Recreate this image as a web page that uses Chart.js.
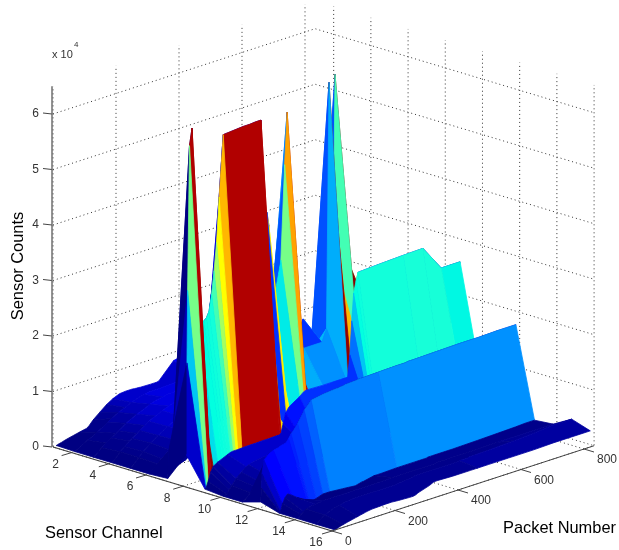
<!DOCTYPE html>
<html lang="en">
<head>
  <meta charset="UTF-8">
  <title>Sensor Counts</title>
  <script src="https://cdn.jsdelivr.net/npm/chart.js@4"></script>
  <style>
    html, body { margin: 0; padding: 0; background: #fff; }
    canvas { display: block; }
  </style>
</head>
<body>
  <canvas id="mychart" width="619" height="550"></canvas>

  <script type="text/javascript">
    // packet numbers the surface was sampled at (not evenly spaced)
    const packets = [10,12,14,20,28,36,50,66,74,82,90,98,106,114,127,148,170,190,211,230,247,252,258,266,272,277,310,322,330,336,383,440,455,463,470,476,482,490,496,560,640,702,760,790,820];

    // sensor counts per channel, one value per packet above
    const ch1 = [100,120,150,250,350,500,700,900,1000,1100,1200,1300,1370,1700,2500,3500,4500,5200,5700,5800,5800,5800,5750,5700,5700,5650,5600,5600,5600,5700,8500,9200,9200,9000,9000,8800,8800,8500,8500,7500,6500,5500,5000,4500,4000];
    const ch2 = [0,50,100,300,600,900,1300,1700,2000,2200,2500,2700,3000,3300,3800,4500,5000,5500,6000,6200,6400,6400,6400,6400,6400,6400,6500,6500,6600,6600,7000,7000,7000,6800,6800,6800,6600,6600,6500,6000,5500,5000,4500,4200,4000];
    const ch3 = [0,70,150,400,800,1200,1800,2400,2700,3000,3300,3600,3900,4200,4600,5200,5700,6200,6600,6800,7000,7000,7000,7000,7100,7100,7200,7200,7300,7300,7500,7500,7500,7400,7400,7400,7300,7300,7200,6500,6000,5500,5000,4600,4200];
    const ch4 = [0,100,200,500,1000,1500,2200,2900,3200,3500,3800,4200,4500,4800,5300,5900,6400,6900,7300,7500,7700,7700,7700,7700,7700,7700,7700,7700,7700,7700,7700,7600,7600,7500,7500,7500,7400,7400,7300,6700,6100,5600,5100,4700,4300];
    const ch5 = [0,100,200,500,1000,1500,2300,3000,3400,3700,4000,4300,4600,4900,5400,6000,6500,7000,7400,7600,7800,7800,7800,7800,7800,7800,7800,7800,7800,7800,7800,7600,7600,7500,7500,7500,7400,7400,7300,6800,6200,5700,5200,4800,4400];
    const ch6 = [0,100,200,500,900,1300,2000,2800,3200,3600,4000,4400,4800,5200,5800,6500,7000,7400,7700,7900,8000,8000,8000,8000,8000,8000,8000,8000,8000,8000,8000,7800,7800,7700,7700,7600,7600,7500,7500,7000,6400,5900,5400,5000,4600];
    const ch7 = [200,5000,1000,1200,1500,1800,2200,2500,2800,3000,3200,6500,7000,7200,7500,7500,7500,7500,7500,7500,8000,8200,8500,9000,9500,10000,14000,16500,17200,17000,12000,21000,14000,14000,14000,13500,13500,12000,11000,9000,8000,7000,6000,5500,5000];
    const ch8 = [5500,22000,35000,61000,64000,24000,27000,28600,29000,30000,33000,37000,42000,50000,61000,61100,61200,61300,61300,61400,61400,46000,12000,44400,42000,25000,35000,52000,61300,20000,17800,17800,20000,64200,50000,33000,65300,36000,8000,7000,6500,6000,5500,5000,4500];
    const ch9 = [300,400,500,1500,3000,3900,4400,4800,5000,5200,5400,5500,5500,5500,5550,5600,5600,5650,5650,5700,5700,6000,7500,9300,9800,10200,11400,12000,12200,12200,12100,12100,12100,12100,16000,22000,26900,29000,30400,30600,30800,30900,26300,26300,26300];
    const ch10 = [0,50,100,300,800,1500,2500,3300,3700,4000,4200,4400,4500,4600,4700,4800,4900,5000,5000,5100,5100,5100,5100,5200,5200,5200,5400,5500,5600,5600,6000,6500,6500,6600,6600,6700,6800,6900,7000,7500,8000,8300,8500,8600,8600];
    const ch11 = [0,50,100,300,700,1200,2000,2600,2900,3100,3300,3500,3600,3800,4000,4000,3800,3600,3400,3400,3400,3400,3400,3500,3500,3500,3600,3600,3600,3600,3800,4000,4000,4000,4000,4000,4200,4200,4200,4500,4800,5000,5500,5800,6000];
    const ch12 = [1000,3500,6000,8400,8800,9200,9600,9800,10000,10100,10200,10800,11500,12000,13000,15000,16400,16600,16800,16900,17000,17000,17000,17100,17100,17200,17300,17400,17400,17400,17500,17600,17600,17600,17600,17700,17700,17700,17700,17800,17900,17900,18000,18000,18000];
    const ch13 = [0,100,300,1500,2500,3000,2500,1800,1500,1300,1000,700,300,300,500,900,900,800,700,600,500,500,600,700,800,800,1200,1200,1200,1200,1300,1300,1300,1300,1300,1300,1400,1400,1400,1400,1500,1600,1700,1800,1800];
    const ch14 = [0,100,200,600,1000,1300,1500,1600,1700,1700,1800,1800,1800,1800,1800,1800,1800,1800,1800,1800,1800,1800,1800,1800,1800,1800,1900,1900,1900,1900,1900,1900,2000,2000,2000,2000,2000,2000,2000,2000,2100,2100,2100,2100,2100];
    const ch15 = [0,100,200,500,900,1200,1600,1900,2000,2100,2200,2300,2400,2400,2500,2500,2500,2500,2500,2500,2500,2500,2500,2600,2600,2600,2800,3000,3000,3000,3000,3000,3000,3100,3100,3100,3100,3100,3200,3300,3500,3700,4000,4000,4000];
    const ch16 = [0,50,100,200,400,500,700,900,1000,1100,1200,1300,1400,1500,1600,1650,1700,1700,1600,1550,1500,1500,1500,1600,1800,1900,2500,2850,2900,2900,2800,2800,2800,2800,2800,2800,2800,2800,2800,2800,2800,2900,2900,2900,2900];
    const counts = [ch1,ch2,ch3,ch4,ch5,ch6,ch7,ch8,ch9,ch10,ch11,ch12,ch13,ch14,ch15,ch16];

    // tick labels
    const channelTicks = [2,4,6,8,10,12,14,16];
    const packetTicks = [0,200,400,600,800];
    const countTicks = [0,1,2,3,4,5,6];

    const packetMax = 832;
    const countMax = 65000;

    // orthographic view of the box, worked out from the tick marks
    function project(channel, packet, value) {
      return {
        x: 53 + 18.6 * (channel - 1) + 0.315 * packet,
        y: 447 + 5.6 * (channel - 1) - 0.1025 * packet - 0.00555 * value
      };
    }

    // jet-like map in 64 steps, nudged to the colours of the picture
    const colorStops = [
      [0, 0, 0, 130], [0.04, 0, 0, 150], [0.09, 0, 0, 220], [0.125, 0, 0, 255],
      [0.28, 0, 160, 255], [0.40, 0, 255, 225], [0.475, 25, 255, 215], [0.55, 150, 255, 110],
      [0.64, 255, 255, 0], [0.80, 255, 150, 0], [0.885, 210, 0, 0], [0.93, 170, 0, 0], [1, 128, 0, 0]
    ];

    function colorFor(value) {
      const t = Math.floor(Math.min(value / 65535, 1) * 64) / 64;
      let i = 0;
      while (i < colorStops.length - 2 && t > colorStops[i + 1][0]) i++;
      const a = colorStops[i], b = colorStops[i + 1];
      const f = (t - a[0]) / (b[0] - a[0]);
      const mix = (k) => Math.round(a[k] + (b[k] - a[k]) * f);
      return 'rgb(' + mix(1) + ',' + mix(2) + ',' + mix(3) + ')';
    }

    let datasets = [];

    // axis lines and ticks come first so they stay on top
    function addStroke(points, color, width, dash) {
      datasets.push({
        data: points, showLine: true, fill: false, pointRadius: 0,
        borderColor: color, borderWidth: width, borderDash: dash || []
      });
    }

    const axisColor = '#444';
    addStroke([project(1, 0, 0), project(16, 0, 0)], axisColor, 1.3);
    addStroke([project(16, 0, 0), project(16, packetMax, 0)], axisColor, 1);
    addStroke([{x: 52, y: project(1, 0, countMax).y}, {x: 52, y: project(1, 0, 0).y}], '#666', 1.4);
    channelTicks.forEach((c) => {
      const p = project(c, 0, 0);
      addStroke([p, {x: p.x - 10, y: p.y + 3}], axisColor, 1);
    });
    packetTicks.forEach((v) => {
      const p = project(16, v, 0);
      addStroke([p, {x: p.x + 10, y: p.y + 3}], axisColor, 1);
    });
    countTicks.forEach((v) => {
      const y = project(1, 0, v * 10000).y;
      addStroke([{x: 43, y: y - 1}, {x: 52, y: y}], axisColor, 1);
    });

    // a cell can join its neighbour only on gentle ground, folded ones would cancel out in the fill
    function gentle(c, j) {
      return Math.abs(counts[c][j + 1] - counts[c][j]) < 4000 &&
             Math.abs(counts[c + 1][j + 1] - counts[c + 1][j]) < 4000;
    }

    // surface, nearest cell first because the first dataset is painted last.
    // neighbouring cells of the same colour share one polygon so no seams show
    for (let c = counts.length - 2; c >= 0; c--) {
      let j = 0;
      while (j < packets.length - 1) {
        const color = colorFor(counts[c][j]);
        let end = j + 1;
        while (end < packets.length - 1 && gentle(c, end - 1) && gentle(c, end) &&
               colorFor(counts[c][end]) === color) end++;
        const outline = [];
        for (let k = j; k <= end; k++) outline.push(project(c + 1, packets[k], counts[c][k]));
        for (let k = end; k >= j; k--) outline.push(project(c + 2, packets[k], counts[c + 1][k]));
        outline.push(outline[0]);
        datasets.push({
          data: outline,
          showLine: true, fill: 'shape', pointRadius: 0,
          backgroundColor: color, borderColor: color, borderWidth: 0.8
        });
        j = end;
      }
    }

    // dotted grid on the two walls and the floor, behind everything
    const gridColor = '#333';
    const gridDash = [1, 3];
    countTicks.forEach((v) => {
      const z = v * 10000;
      addStroke([project(1, 0, z), project(1, packetMax, z), project(16, packetMax, z)], gridColor, 1, gridDash);
    });
    packetTicks.forEach((v) => {
      addStroke([project(16, v, 0), project(1, v, 0), project(1, v, countMax)], gridColor, 1, gridDash);
    });
    channelTicks.forEach((c) => {
      addStroke([project(c, 0, 0), project(c, packetMax, 0), project(c, packetMax, countMax)], gridColor, 1, gridDash);
    });

    const axisText = {
      id: 'axisText',
      afterDraw(chart) {
        const ctx = chart.ctx;
        const sx = chart.scales.x, sy = chart.scales.y;
        const at = (p) => ({x: sx.getPixelForValue(p.x), y: sy.getPixelForValue(p.y)});
        ctx.save();
        ctx.textBaseline = 'middle';
        ctx.fillStyle = '#333';
        ctx.font = '12px "Liberation Sans"';

        ctx.textAlign = 'center';
        channelTicks.forEach((c) => {
          const p = at(project(c, 0, 0));
          ctx.fillText(String(c), p.x - 16, p.y + 12);
        });
        ctx.textAlign = 'left';
        packetTicks.forEach((v) => {
          const p = at(project(16, v, 0));
          ctx.fillText(String(v), p.x + 13, p.y + 11);
        });
        ctx.textAlign = 'right';
        countTicks.forEach((v) => {
          const p = at(project(1, 0, v * 10000));
          ctx.fillText(String(v), 39, p.y);
        });

        ctx.textAlign = 'left';
        ctx.font = '11px "Liberation Sans"';
        ctx.fillText('x 10', 52, 55);
        ctx.font = '8px "Liberation Sans"';
        ctx.fillText('4', 74, 45);

        ctx.fillStyle = '#000';
        ctx.font = '16.4px "Liberation Sans"';
        ctx.fillText('Sensor Channel', 45, 533);
        ctx.fillText('Packet Number', 503, 528);
        ctx.translate(18, 266);
        ctx.rotate(-Math.PI / 2);
        ctx.textAlign = 'center';
        ctx.fillText('Sensor Counts', 0, 0);
        ctx.restore();
      }
    };

    const myChart = new Chart(document.getElementById('mychart'), {
      type: 'scatter',
      data: { datasets: datasets },
      options: {
        responsive: false,
        animation: false,
        events: [],
        layout: { padding: 0 },
        elements: { line: { tension: 0 } },
        plugins: { legend: { display: false }, tooltip: { enabled: false } },
        scales: {
          x: { type: 'linear', min: 0, max: 619, display: false },
          y: { type: 'linear', min: 0, max: 550, reverse: true, display: false }
        }
      },
      plugins: [axisText]
    });
  </script>
</body>
</html>
